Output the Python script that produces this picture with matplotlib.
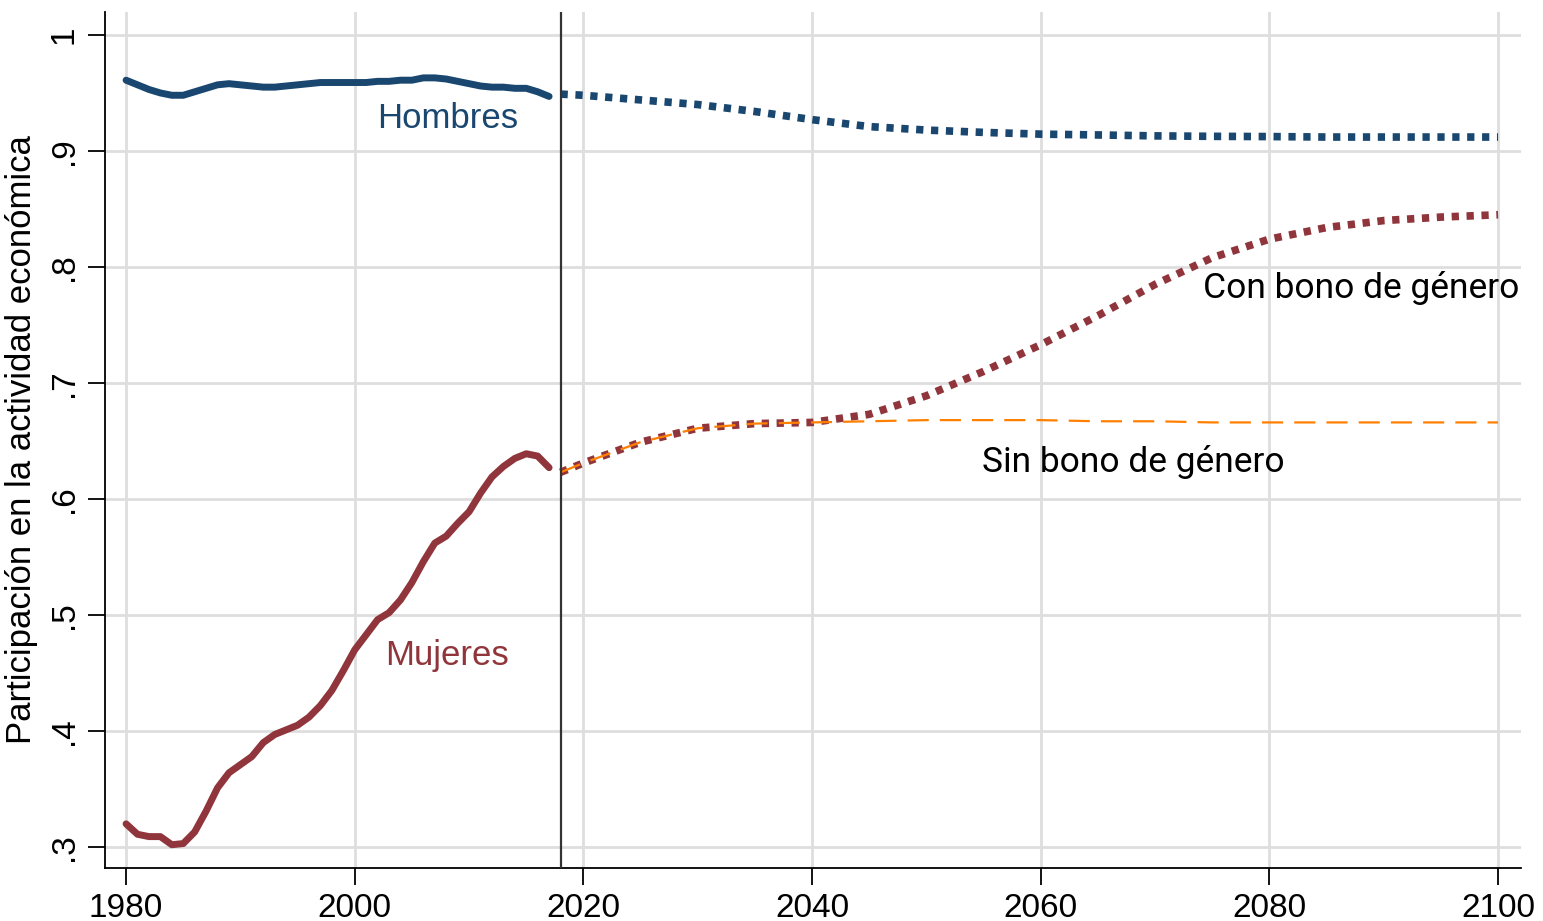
import numpy as np
import matplotlib
matplotlib.use('Agg')
import matplotlib.pyplot as plt

# datos observados 1980-2017
anios_obs = list(range(1980, 2018))
hombres_obs = [0.961, 0.957, 0.953, 0.950, 0.948, 0.948, 0.951, 0.954, 0.957, 0.958,
               0.957, 0.956, 0.955, 0.955, 0.956, 0.957, 0.958, 0.959, 0.959, 0.959,
               0.959, 0.959, 0.960, 0.960, 0.961, 0.961, 0.963, 0.963, 0.962, 0.960,
               0.958, 0.956, 0.955, 0.955, 0.954, 0.954, 0.951, 0.947]
mujeres_obs = [0.320, 0.311, 0.309, 0.309, 0.302, 0.303, 0.313, 0.331, 0.351, 0.364,
               0.371, 0.378, 0.390, 0.397, 0.401, 0.405, 0.412, 0.422, 0.435, 0.452,
               0.470, 0.483, 0.496, 0.502, 0.513, 0.528, 0.546, 0.562, 0.568, 0.579,
               0.589, 0.605, 0.619, 0.628, 0.635, 0.639, 0.637, 0.627]

# proyecciones 2018-2100
anios_proy = [2018, 2020, 2025, 2030, 2035, 2040, 2045, 2050, 2055, 2060,
              2065, 2070, 2075, 2080, 2085, 2090, 2095, 2100]
hombres_proy = [0.949, 0.948, 0.944, 0.940, 0.934, 0.927, 0.921, 0.918, 0.916, 0.9145,
                0.9138, 0.913, 0.9126, 0.9124, 0.912, 0.912, 0.912, 0.912]
con_bono = [0.623, 0.631, 0.649, 0.661, 0.665, 0.666, 0.673, 0.689, 0.710, 0.733,
            0.758, 0.785, 0.808, 0.824, 0.834, 0.840, 0.843, 0.845]
sin_bono = [0.623, 0.631, 0.649, 0.661, 0.665, 0.666, 0.667, 0.668, 0.668, 0.668,
            0.667, 0.667, 0.666, 0.666, 0.666, 0.666, 0.666, 0.666]

azul = '#1a476f'
granate = '#90353b'
naranja = '#ff8000'

plt.rcParams['font.family'] = ['Liberation Sans', 'DejaVu Sans']

fig = plt.figure(figsize=(15.43, 9.21), dpi=100)
ax = fig.add_axes([0.068, 0.0575, 0.9177, 0.9295])

# lineas observadas
ax.plot(anios_obs, hombres_obs, color=azul, lw=5, solid_capstyle='round', solid_joinstyle='round', zorder=3)
ax.plot(anios_obs, mujeres_obs, color=granate, lw=5, solid_capstyle='round', solid_joinstyle='round', zorder=3)

# proyecciones
ax.plot(anios_proy, hombres_proy, color=azul, lw=5.5, linestyle=(0, (0.95, 1.0)), dash_capstyle='butt', zorder=3)
ax.plot(anios_proy, con_bono, color=granate, lw=5.5, linestyle=(0, (0.95, 1.0)), dash_capstyle='butt', zorder=3)
ax.plot(anios_proy, sin_bono, color=naranja, lw=1.6, linestyle=(0, (9.5, 5)), zorder=4)

ax.axvline(2018, color='#333333', lw=1.6, zorder=5)

# etiquetas
ax.text(2008.1, 0.9284, 'Hombres', color=azul, fontsize=25, ha='center', va='center')
ax.text(2008.1, 0.4647, 'Mujeres', color=granate, fontsize=25, ha='center', va='center')
ax.text(2088.0, 0.782, 'Con bono de género', color='black', fontsize=25.5, ha='center', va='center',
        family=['Roboto', 'DejaVu Sans'])
ax.text(2068.1, 0.632, 'Sin bono de género', color='black', fontsize=25.5, ha='center', va='center',
        family=['Roboto', 'DejaVu Sans'])

ax.set_xlim(1978.15, 2102.0)
ax.set_ylim(0.2819, 1.0198)
ax.set_xticks([1980, 2000, 2020, 2040, 2060, 2080, 2100])
ax.set_yticks([0.3, 0.4, 0.5, 0.6, 0.7, 0.8, 0.9, 1.0])
ax.set_yticklabels(['.3', '.4', '.5', '.6', '.7', '.8', '.9', '1'], rotation=90, va='center')
ax.tick_params(axis='both', labelsize=24, length=12, width=1.3, colors='black')
ax.tick_params(axis='x', pad=6)
ax.tick_params(axis='y', pad=6)

ax.grid(True, color='#dedede', lw=2.0)
ax.set_axisbelow(True)
for lado in ['top', 'right']:
    ax.spines[lado].set_visible(False)
for lado in ['left', 'bottom']:
    ax.spines[lado].set_linewidth(1.3)
    ax.spines[lado].set_color('black')

ax.set_ylabel('Participación en la actividad económica', fontsize=25, labelpad=8)

fig.savefig('out.png', dpi=100)
